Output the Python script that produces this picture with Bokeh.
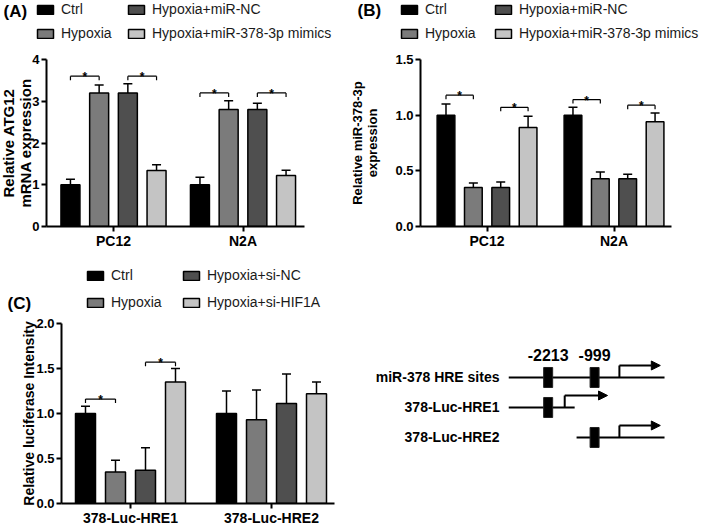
import numpy as np
from bokeh.plotting import figure
from bokeh.models import (ColumnDataSource, Range1d, FixedTicker, Whisker, TeeHead,
                          Legend, LegendItem, Label, Arrow, NormalHead, NumeralTickFormatter,
                          Spacer)
from bokeh.layouts import row, column
from bokeh.core.properties import value
from bokeh.embed import file_html
from bokeh.resources import INLINE

FONT = "Liberation Sans"
COLORS = ["#000000", "#7b7b7b", "#4f4f4f", "#c4c4c4"]

# ---------------- data ----------------
# Panel A: Relative ATG12 mRNA expression
a_groups = ["PC12", "N2A"]
a_series = ["Ctrl", "Hypoxia", "Hypoxia+miR-NC", "Hypoxia+miR-378-3p mimics"]
a_means = [[1.00, 3.20, 3.20, 1.34], [1.00, 2.80, 2.80, 1.22]]
a_errs = [[0.13, 0.19, 0.22, 0.14], [0.18, 0.21, 0.15, 0.13]]
a_sig = [(0, 0, 1, 3.60), (0, 2, 3, 3.60), (1, 0, 1, 3.20), (1, 2, 3, 3.20)]
a_yticks = [0, 1, 2, 3, 4]

# Panel B: Relative miR-378-3p expression
b_groups = ["PC12", "N2A"]
b_series = ["Ctrl", "Hypoxia", "Hypoxia+miR-NC", "Hypoxia+miR-378-3p mimics"]
b_means = [[1.00, 0.35, 0.35, 0.89], [1.00, 0.43, 0.43, 0.94]]
b_errs = [[0.10, 0.04, 0.05, 0.10], [0.07, 0.06, 0.04, 0.08]]
b_sig = [(0, 0, 1, 1.18), (0, 2, 3, 1.07), (1, 0, 1, 1.14), (1, 2, 3, 1.09)]
b_yticks = [0.0, 0.5, 1.0, 1.5]

# Panel C: Relative luciferase intensity
c_groups = ["378-Luc-HRE1", "378-Luc-HRE2"]
c_series = ["Ctrl", "Hypoxia", "Hypoxia+si-NC", "Hypoxia+si-HIF1A"]
c_means = [[1.00, 0.35, 0.37, 1.35], [1.00, 0.93, 1.11, 1.22]]
c_errs = [[0.08, 0.13, 0.25, 0.15], [0.25, 0.33, 0.33, 0.13]]
c_sig = [(0, 0, 1, 1.16), (0, 2, 3, 1.57)]
c_yticks = [0.0, 0.5, 1.0, 1.5, 2.0]

# Panel D: schematic of HRE sites (position relative to TSS, schematic)
d_rows = ["378-Luc-HRE2", "378-Luc-HRE1", "miR-378 HRE sites"]
d_start = [-1470, -3250, -3250]
d_end = [830, -1520, 830]
d_tss = [-350, -1780, -350]
d_arrow_end = [720, -660, 720]
d_sites = [[-999], [-2213], [-2213, -999]]
d_site_labels = ["-2213", "-999"]
d_site_pos = [-2213, -999]

HDR_DX = 7  # horizontal correction for header contents


def style_blank(p):
    p.outline_line_color = None
    p.xgrid.visible = False
    p.ygrid.visible = False
    p.background_fill_color = None
    p.border_fill_color = None


def header(tag, series, W, H, leg_x, leg_top, leg_spacing, tag_xy):
    h = figure(width=W, height=H, x_range=Range1d(0, 1), y_range=Range1d(0, 1),
               output_backend="svg", toolbar_location=None, frame_align=False,
               x_axis_location=None, y_axis_location=None,
               min_border_left=0, min_border_right=0, min_border_top=0, min_border_bottom=0)
    style_blank(h)
    rends = []
    for k, name in enumerate(series):
        # hidden legend proxies (only their legend swatches are shown)
        src = ColumnDataSource(dict(x=[0.5], top=[0.5]))
        r = h.vbar(x="x", top="top", bottom=0.4, width=0.1, source=src,
                   fill_color=COLORS[k], line_color="black", line_width=1.5)
        r.visible = False
        rends.append(r)
    lab_h = 16
    leg_h = 2 * lab_h + leg_spacing
    for c in range(2):
        items = [LegendItem(label=series[c * 2 + r], renderers=[rends[c * 2 + r]]) for r in range(2)]
        leg = Legend(items=items, location=(leg_x[c] + HDR_DX, H - (leg_top + leg_h)),
                     orientation="vertical", spacing=leg_spacing, padding=0, margin=0,
                     border_line_color=None, background_fill_alpha=0,
                     inactive_fill_alpha=0,
                     glyph_width=20, glyph_height=11, label_height=lab_h, label_standoff=6,
                     label_text_font=FONT, label_text_font_size="14px",
                     label_text_color="#1a1a1a")
        h.add_layout(leg)
    h.add_layout(Label(x=tag_xy[0] + HDR_DX, y=H - tag_xy[1], x_units="screen", y_units="screen",
                       text=tag, text_font=FONT, text_font_style="bold",
                       text_font_size="17px", text_baseline="middle", text_color="black"))
    return h


def bar_panel(groups, series, means, errs, sig, ylabel, yticks, yfmt,
              W, H, fl, fr, ft, fb, centers, step_px, bar_px, ylab_standoff, ylab_size,
              ytick_standoff=2):
    fw, fh = fr - fl, fb - ft
    ppu = centers[1] - centers[0]
    x0 = 1 - (centers[0] - fl) / ppu
    x1 = x0 + fw / ppu
    ymax = yticks[-1]
    p = figure(width=W, height=H, x_range=Range1d(x0, x1), y_range=Range1d(0, ymax),
               output_backend="svg", toolbar_location=None, frame_align=False,
               min_border_left=fl, min_border_right=W - fr,
               min_border_top=ft, min_border_bottom=H - fb)
    style_blank(p)

    offsets = (np.arange(len(series)) - 1.5) * step_px / ppu
    bw = bar_px / ppu
    for k, name in enumerate(series):
        xs = [g + 1 + offsets[k] for g in range(len(groups))]
        tops = [means[g][k] for g in range(len(groups))]
        ups = [means[g][k] + errs[g][k] for g in range(len(groups))]
        src = ColumnDataSource(dict(x=xs, top=tops, upper=ups))
        p.add_layout(Whisker(source=src, base="x", lower="top", upper="upper",
                             line_width=1.5, line_color="black",
                             upper_head=TeeHead(size=9, line_width=1.5, line_color="black"),
                             lower_head=None))
        p.vbar(x="x", top="top", bottom=0, width=bw, source=src,
               fill_color=COLORS[k], line_color="black", line_width=1.5)

    # significance brackets
    tick = 4 * ymax / fh
    bx0 = [s[0] + 1 + offsets[s[1]] for s in sig]
    bx1 = [s[0] + 1 + offsets[s[2]] for s in sig]
    by = [s[3] for s in sig]
    p.segment(x0=bx0, y0=by, x1=bx1, y1=by, line_color="black", line_width=1.2)
    p.segment(x0=bx0 + bx1, y0=by + by, x1=bx0 + bx1, y1=[v - tick for v in by + by],
              line_color="black", line_width=1.2)
    p.text(x=[(a + b) / 2 for a, b in zip(bx0, bx1)], y=by, text=["*"] * len(sig),
           text_align="center", text_baseline="alphabetic", y_offset=1,
           text_font=value(FONT), text_font_style="bold", text_font_size="12px",
           text_color="black")

    xa = p.xaxis[0]
    xa.ticker = FixedTicker(ticks=[1, 2])
    xa.major_label_overrides = {1: groups[0], 2: groups[1]}
    xa.minor_tick_line_color = None
    xa.major_tick_in = 0
    xa.major_tick_out = 5
    xa.axis_line_width = 2
    xa.major_tick_line_width = 2
    xa.major_label_standoff = 1
    xa.major_label_text_font = FONT
    xa.major_label_text_font_style = "bold"
    xa.major_label_text_font_size = "14px"
    xa.major_label_text_color = "black"

    ya = p.yaxis[0]
    ya.ticker = FixedTicker(ticks=yticks)
    ya.formatter = NumeralTickFormatter(format=yfmt)
    ya.minor_tick_line_color = None
    ya.major_tick_in = 0
    ya.major_tick_out = 5
    ya.axis_line_width = 2
    ya.major_tick_line_width = 2
    ya.major_label_standoff = ytick_standoff
    ya.major_label_text_font = FONT
    ya.major_label_text_font_style = "bold"
    ya.major_label_text_font_size = "13px"
    ya.major_label_text_color = "black"
    ya.axis_label = ylabel
    ya.axis_label_text_font = FONT
    ya.axis_label_text_font_style = "bold"
    ya.axis_label_text_font_size = ylab_size
    ya.axis_label_text_line_height = 1.0
    ya.axis_label_text_color = "black"
    ya.axis_label_standoff = ylab_standoff
    return p


hA = header("(A)", a_series, 355, 48, (36, 127), 1, 8, (4, 11))
pA = bar_panel(a_groups, a_series, a_means, a_errs, a_sig,
               "Relative ATG12\nmRNA expression", a_yticks, "0",
               355, 212, 54, 312, 11, 178, (121, 250.5), 28.7, 19, -5, "15px", 2)
hB = header("(B)", b_series, 354, 48, (45, 139), 1, 8, (3, 10))
pB = bar_panel(b_groups, b_series, b_means, b_errs, b_sig,
               "Relative miR-378-3p\nexpression", b_yticks, "0.0",
               354, 212, 69, 324, 11, 178, (136.6, 265.6), 27.8, 18, 12, "13px")
hC = header("(C)", c_series, 380, 55, (86, 182), 7, 11, (8, 43))
pC = bar_panel(c_groups, c_series, c_means, c_errs, c_sig,
               "Relative luciferase Intensity", c_yticks, "0.0",
               380, 213, 69, 342, 8, 190, (138, 279), 30, 20, -4, "14px")

# ---------------- panel D: schematic ----------------
pD = figure(width=329, height=213, x_range=Range1d(-3250, 1300), y_range=Range1d(-2.267, 3.8),
            output_backend="svg", toolbar_location=None, x_axis_location=None, frame_align=False,
            min_border_left=136, min_border_right=19, min_border_top=8, min_border_bottom=23)
style_blank(pD)
rows_y = list(range(len(d_rows)))
pD.segment(x0=d_start, y0=rows_y, x1=d_end, y1=rows_y, line_color="black", line_width=2)
rise = 0.4
pD.segment(x0=d_tss, y0=rows_y, x1=d_tss, y1=[y + rise for y in rows_y],
           line_color="black", line_width=2)
arrow_src = ColumnDataSource(dict(xs=d_tss, xe=d_arrow_end, y=[y + rise for y in rows_y]))
pD.add_layout(Arrow(source=arrow_src, x_start="xs", y_start="y", x_end="xe", y_end="y",
                    line_color="black", line_width=2,
                    end=NormalHead(size=9, fill_color="black", line_color="black", line_width=1)))
sx = [s for r in rows_y for s in d_sites[r]]
sy = [r for r in rows_y for s in d_sites[r]]
pD.rect(x=sx, y=sy, width=9, height=20, width_units="screen", height_units="screen",
        fill_color="black", line_color="#222222", line_width=1)
pD.text(x=d_site_pos, y=[2] * len(d_site_pos), text=d_site_labels, y_offset=-22,
        text_align="center", text_baseline="middle", text_font=value(FONT),
        text_font_style="bold", text_font_size="16px", text_color="black")
ya = pD.yaxis[0]
ya.ticker = FixedTicker(ticks=rows_y)
ya.major_label_overrides = {i: n for i, n in enumerate(d_rows)}
ya.axis_line_color = None
ya.major_tick_line_color = None
ya.minor_tick_line_color = None
ya.major_tick_out = 0
ya.major_tick_in = 0
ya.major_label_standoff = 9
ya.major_label_text_font = FONT
ya.major_label_text_font_style = "bold"
ya.major_label_text_font_size = "14px"
ya.major_label_text_color = "black"

layout = column(row(column(hA, pA), column(hB, pB)),
                row(column(hC, pC), column(Spacer(width=329, height=55), pD)))
layout.styles = {"margin-left": "-8px", "margin-right": "-8px", "margin-bottom": "-8px"}

open("out.html", "w").write(file_html(layout, INLINE))
